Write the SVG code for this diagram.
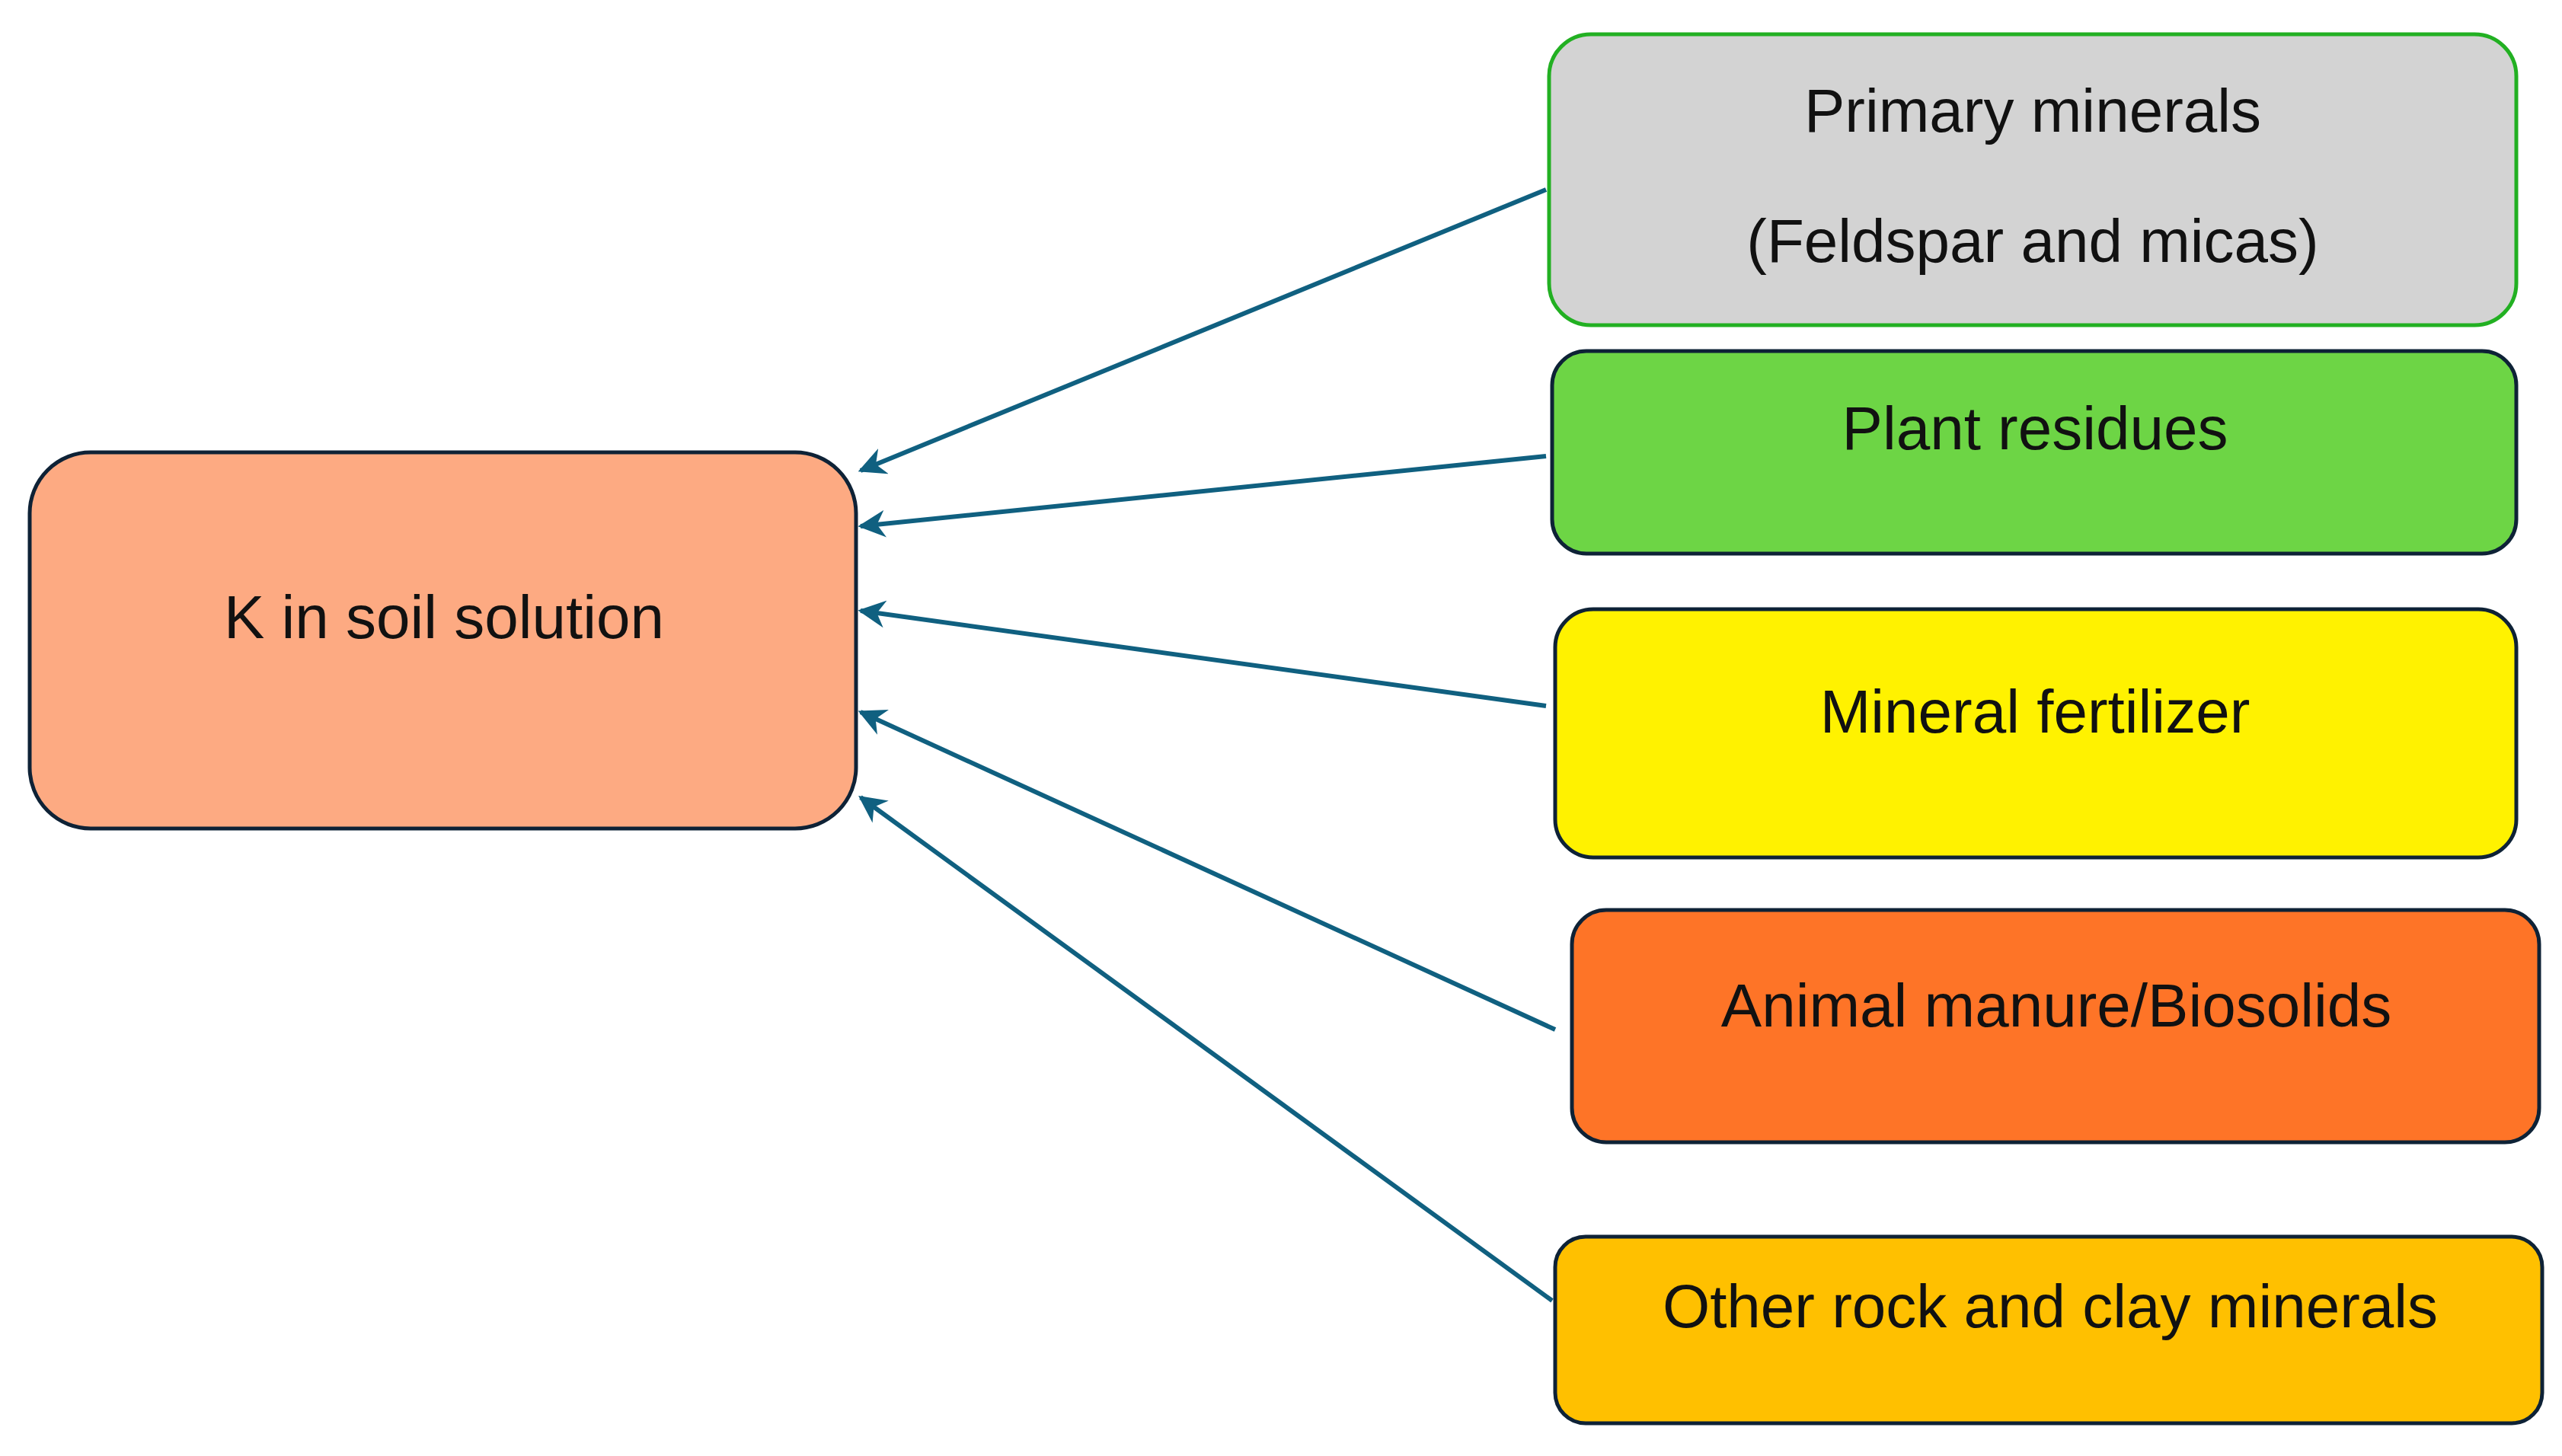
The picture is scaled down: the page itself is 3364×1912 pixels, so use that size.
<svg xmlns="http://www.w3.org/2000/svg" width="3364" height="1912" viewBox="0 0 3364 1912">
<style>
.b{stroke:#0e2236;stroke-width:5}
.t{font-family:"Liberation Sans",Arial,sans-serif;font-size:80px;fill:#111;text-anchor:middle}
.c{stroke:#106080;stroke-width:6;fill:none;marker-end:url(#a)}
</style>
<defs><marker id="a" viewBox="0 0 10 10" refX="9" refY="5" markerWidth="6" markerHeight="6" orient="auto" markerUnits="strokeWidth"><path d="M0,0L10,5L0,10L3,5Z" fill="#106080"/></marker></defs>
<rect width="3364" height="1912" fill="#fff"/>
<g id="connectors">
<line class="c" x1="2030" y1="249" x2="1130" y2="618"/>
<line class="c" x1="2030" y1="599" x2="1130" y2="691"/>
<line class="c" x1="2030" y1="927" x2="1130" y2="802"/>
<line class="c" x1="2042" y1="1352" x2="1130" y2="935"/>
<line class="c" x1="2038" y1="1708" x2="1130" y2="1047"/>
</g>
<g id="k"><rect class="b" x="39" y="594" width="1085" height="494" rx="80" fill="#fdaa82"/><text class="t" x="583" y="838">K in soil solution</text></g>
<g id="primary"><rect x="2034" y="45" width="1270" height="382" rx="55" fill="#d3d3d3" stroke="#22b022" stroke-width="5"/><text class="t" x="2669" y="173">Primary minerals</text><text class="t" x="2669" y="344">(Feldspar and micas)</text></g>
<g id="plant"><rect class="b" x="2038" y="461" width="1266" height="266" rx="45" fill="#6dd545"/><text class="t" x="2672" y="590">Plant residues</text></g>
<g id="mineral"><rect class="b" x="2042" y="800" width="1262" height="326" rx="50" fill="#fff200"/><text class="t" x="2672" y="962">Mineral fertilizer</text></g>
<g id="animal"><rect class="b" x="2064" y="1195" width="1270" height="305" rx="45" fill="#fe7427"/><text class="t" x="2700" y="1348">Animal manure/Biosolids</text></g>
<g id="other"><rect class="b" x="2042" y="1624" width="1296" height="245" rx="40" fill="#ffc000"/><text class="t" x="2692" y="1743">Other rock and clay minerals</text></g>
</svg>
